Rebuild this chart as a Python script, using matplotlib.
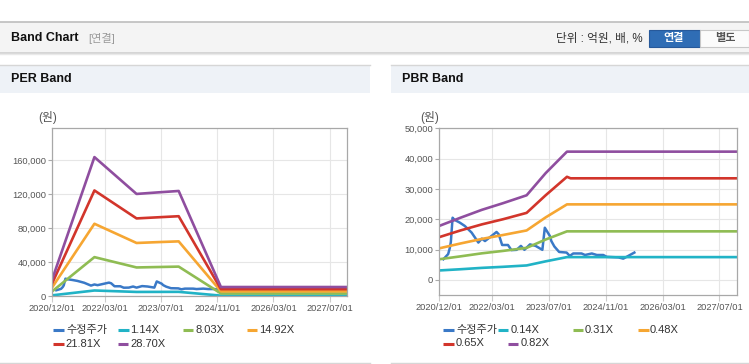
import matplotlib
matplotlib.use('Agg')
import matplotlib.pyplot as plt
import matplotlib.dates as mdates
from matplotlib.patches import Rectangle
from matplotlib.ticker import FuncFormatter
import pandas as pd

plt.rcParams['font.family'] = ['Liberation Sans', 'Noto Sans CJK KR', 'DejaVu Sans']

# -----------------------------
# Data
# -----------------------------
price_dates = ['2021-01-05', '2021-02-15', '2021-03-01', '2021-03-10', '2021-03-25',
               '2021-04-10', '2021-05-25', '2021-07-07', '2021-09-04', '2021-11-01',
               '2021-12-01', '2021-12-28', '2022-02-03', '2022-04-06', '2022-04-25',
               '2022-05-24', '2022-07-13', '2022-08-12', '2022-09-25', '2022-11-01',
               '2022-12-01', '2023-01-18', '2023-03-07', '2023-05-04', '2023-05-25',
               '2023-07-07', '2023-07-20', '2023-08-15', '2023-09-25', '2023-11-28',
               '2023-12-25', '2024-01-24', '2024-04-04', '2024-05-04', '2024-07-01',
               '2024-08-13', '2024-10-07', '2024-11-06', '2025-02-15', '2025-03-28',
               '2025-05-10', '2025-07-01']
price = [6800, 8500, 10500, 12500, 20500,
         19800, 18900, 17800, 15600, 12300,
         13600, 12800, 13900, 15800, 15000,
         11500, 11500, 9800, 9900, 11200,
         9900, 11700, 11200, 9900, 17200,
         14500, 12800, 11000, 9200, 9000,
         7900, 8700, 8700, 8200, 8700,
         8200, 8200, 7600, 7400, 7000,
         7900, 9000]

per_dates = ['2020-12-01', '2021-12-01', '2022-12-01', '2023-06-01', '2023-12-01',
             '2024-12-01', '2027-12-01']
per_1_14 = [800, 6500, 4800, 4850, 4900, 420, 420]
per_8_03 = [5600, 45900, 33700, 34200, 34700, 2970, 2970]
per_14_92 = [10400, 85300, 62600, 63600, 64500, 5520, 5520]
per_21_81 = [15300, 124600, 91600, 92900, 94200, 8070, 8070]
per_28_70 = [20100, 164000, 120500, 122300, 124000, 10600, 10600]
per_labels = ['1.14X', '8.03X', '14.92X', '21.81X', '28.70X']

pbr_dates = ['2020-12-01', '2021-06-01', '2021-12-01', '2022-06-01', '2022-12-20',
             '2023-06-01', '2023-12-01', '2024-01-01', '2027-12-01']
pbr_0_14 = [3100, 3500, 3950, 4300, 4750, 6100, 7500, 7500, 7500]
pbr_0_31 = [6800, 7750, 8750, 9550, 10550, 13300, 16000, 16000, 16000]
pbr_0_48 = [10400, 12000, 13500, 14800, 16300, 20600, 24900, 24900, 24900]
pbr_0_65 = [14100, 16300, 18300, 20000, 22100, 27900, 34000, 33500, 33500]
pbr_0_82 = [17800, 20500, 23100, 25300, 27900, 35200, 42300, 42300, 42300]
pbr_labels = ['0.14X', '0.31X', '0.48X', '0.65X', '0.82X']

x_ticks = ['2020-12-01', '2022-03-01', '2023-07-01', '2024-11-01', '2026-03-01', '2027-07-01']
x_range = ['2020-12-01', '2027-12-01']

price_color = '#3a79c7'
band_colors = ['#21b3c6', '#8fbc53', '#f6a632', '#d2352b', '#8f4e9f']

# -----------------------------
# Figure + page decorations (pixel coords)
# -----------------------------
fig = plt.figure(figsize=(7.49, 3.64), dpi=100)
bg = fig.add_axes([0, 0, 1, 1], zorder=0)
bg.set_xlim(0, 749)
bg.set_ylim(364, 0)
bg.axis('off')

# top bar
bg.add_patch(Rectangle((0, 22), 749, 30.5, facecolor='#f4f4f4', edgecolor='none'))
bg.plot([0, 749], [22, 22], color='#bdbdbd', lw=1.2)
bg.plot([0, 749], [53, 53], color='#cfcfcf', lw=1.2)
bg.plot([0, 749], [54.3, 54.3], color='#e9e9e9', lw=1.0)
bg.text(11, 38, 'Band Chart', fontsize=9, fontweight='bold', color='#111111', va='center')
bg.text(88, 38.5, '[연결]', fontsize=8, color='#9a9a9a', va='center')
bg.text(643, 38.5, '단위 : 억원, 배, %', fontsize=8.4, color='#333333', va='center', ha='right')
bg.add_patch(Rectangle((649, 29.5), 51, 17.5, facecolor='#2f6db5', edgecolor='#27599a', lw=0.8))
bg.text(674, 38.5, '연결', fontsize=8, color='white', fontweight='bold', ha='center', va='center')
bg.add_patch(Rectangle((700, 29.5), 49, 17.5, facecolor='#fbfbfb', edgecolor='#c8c8c8', lw=0.8))
bg.text(725, 38.5, '별도', fontsize=8, color='#555555', fontweight='bold', ha='center', va='center')

# panel headers
for x0, x1, title in [(0, 370, 'PER Band'), (391, 749, 'PBR Band')]:
    bg.add_patch(Rectangle((x0, 64.5), x1 - x0, 28, facecolor='#eef2f7', edgecolor='none'))
    bg.plot([x0, x1], [64.5, 64.5], color='#d6d6d6', lw=1.0)
    bg.plot([x0, x1], [363, 363], color='#d6d6d6', lw=1.0)
    bg.text(x0 + 11, 79, title, fontsize=9, fontweight='bold', color='#111111', va='center')

bg.text(47.5, 118, '(원)', fontsize=8.5, color='#555555', ha='center', va='center')
bg.text(430, 117.5, '(원)', fontsize=8.5, color='#555555', ha='center', va='center')


def style_axes(ax, ylim, yticks):
    ax.set_xlim(pd.to_datetime(x_range))
    ax.set_ylim(*ylim)
    ax.set_yticks(yticks)
    ax.set_xticks(pd.to_datetime(x_ticks))
    ax.xaxis.set_major_formatter(mdates.DateFormatter('%Y/%m/%d'))
    ax.yaxis.set_major_formatter(FuncFormatter(lambda v, p: f'{int(v):,}'))
    ax.grid(True, color='#e6e6e6', lw=0.8)
    ax.set_axisbelow(True)
    for s in ax.spines.values():
        s.set_color('#a8a8a8')
        s.set_linewidth(0.9)
    ax.tick_params(axis='y', length=3, width=0.8, color='#aaaaaa', pad=1.5,
                   labelsize=6.7, labelcolor='#555555')
    ax.tick_params(axis='x', length=4.5, width=0.8, color='#cccccc', pad=1,
                   labelsize=6.7, labelcolor='#555555')


def draw_legend(items, rows):
    # items: (label, color, sample x0, text x0, row)
    for label, color, sx, tx, row in items:
        y = rows[row]
        bg.plot([sx, sx + 10.5], [y, y], color=color, lw=2.2, solid_capstyle='butt')
        bg.text(tx, y, label, fontsize=8, color='#333333', va='center')


# -----------------------------
# PER Band
# -----------------------------
ax1 = fig.add_axes([52.3 / 749, 1 - 296 / 364, 295 / 749, 167.7 / 364], zorder=1)
pd_price = pd.to_datetime(price_dates)
ax1.plot(pd_price, price, color=price_color, lw=1.8)
per_series = [per_1_14, per_8_03, per_14_92, per_21_81, per_28_70]
for vals, c in zip(per_series, band_colors):
    ax1.plot(pd.to_datetime(per_dates), vals, color=c, lw=1.9)
style_axes(ax1, (0, 198000), [0, 40000, 80000, 120000, 160000])

per_sx = [53.3, 118.3, 182.7, 246.7, 53.3, 117.8]
per_tx = [66, 130.5, 195, 259.3, 65.5, 130.5]
per_items = [('수정주가', price_color, per_sx[0], per_tx[0], 0)]
for i, (lab, c) in enumerate(zip(per_labels, band_colors)):
    k = i + 1
    per_items.append((lab, c, per_sx[k], per_tx[k], 0 if k < 4 else 1))
draw_legend(per_items, [330, 344])

# -----------------------------
# PBR Band
# -----------------------------
ax2 = fig.add_axes([439.3 / 749, 1 - 295 / 364, 298 / 749, 166.7 / 364], zorder=1)
ax2.plot(pd_price, price, color=price_color, lw=1.8)
pbr_series = [pbr_0_14, pbr_0_31, pbr_0_48, pbr_0_65, pbr_0_82]
for vals, c in zip(pbr_series, band_colors):
    ax2.plot(pd.to_datetime(pbr_dates), vals, color=c, lw=1.9)
style_axes(ax2, (-5000, 50000), [0, 10000, 20000, 30000, 40000, 50000])

pbr_sx = [443.3, 497.7, 572.7, 638.3, 443.3, 507.7]
pbr_tx = [456.5, 510.7, 585, 650, 455.5, 521]
pbr_items = [('수정주가', price_color, pbr_sx[0], pbr_tx[0], 0)]
for i, (lab, c) in enumerate(zip(pbr_labels, band_colors)):
    k = i + 1
    pbr_items.append((lab, c, pbr_sx[k], pbr_tx[k], 0 if k < 4 else 1))
draw_legend(pbr_items, [330, 343.5])

fig.savefig('out.png', dpi=100, facecolor='white')
